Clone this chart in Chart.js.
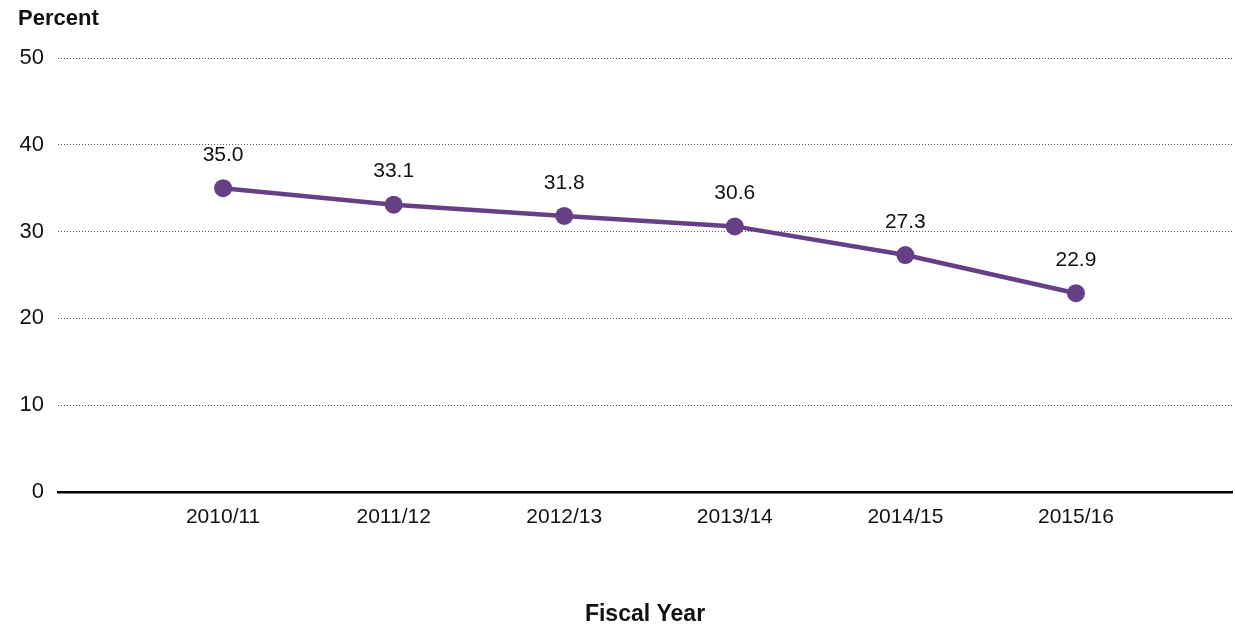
<!DOCTYPE html>
<html>
<head>
<meta charset="utf-8">
<script src="https://cdn.jsdelivr.net/npm/chart.js@4"></script>
<style>
html,body{margin:0;padding:0;background:#fff;overflow:hidden;}
#wrap{width:1235px;height:629px;position:relative;}
canvas{display:block;}
</style>
</head>
<body>
<div id="wrap"><canvas id="c" width="1235" height="629"></canvas></div>
<script>
const categories = ["2010/11","2011/12","2012/13","2013/14","2014/15","2015/16"];
const values = [35.0, 33.1, 31.8, 30.6, 27.3, 22.9];
const yTicks = [0, 10, 20, 30, 40, 50];
const yTitle = "Percent";
const xTitle = "Fiscal Year";

const FONT = "'Liberation Sans', Arial, Helvetica, sans-serif";
const PURPLE = "#673f87";

const points = values.map((v, i) => ({x: i, y: v}));

const extras = {
  id: 'extras',
  afterDatasetsDraw(chart) {
    const ctx = chart.ctx;
    const meta = chart.getDatasetMeta(0);
    ctx.save();
    ctx.fillStyle = '#111';
    ctx.font = "21px " + FONT;
    ctx.textAlign = 'center';
    ctx.textBaseline = 'middle';
    meta.data.forEach((el, i) => {
      ctx.fillText(values[i].toFixed(1), el.x, el.y - 33);
    });
    ctx.font = "bold 22px " + FONT;
    ctx.textAlign = 'left';
    ctx.fillText(yTitle, 18, 19);
    ctx.restore();
  }
};

new Chart(document.getElementById('c'), {
  type: 'line',
  data: {
    datasets: [{
      data: points,
      borderColor: PURPLE,
      backgroundColor: PURPLE,
      borderWidth: 4.5,
      pointRadius: 9,
      pointHoverRadius: 9,
      pointBackgroundColor: PURPLE,
      pointBorderWidth: 0,
      tension: 0,
      fill: false
    }]
  },
  options: {
    responsive: false,
    animation: false,
    devicePixelRatio: 1,
    layout: {autoPadding: false, padding: {left: 10, right: 3, top: 58, bottom: 0}},
    plugins: {legend: {display: false}, tooltip: {enabled: false}, title: {display: false}},
    scales: {
      x: {
        type: 'linear',
        min: -0.968,
        max: 5.915,
        afterBuildTicks(scale) { scale.ticks = categories.map((c, i) => ({value: i})); },
        afterFit(scale) { scale.height = 137; scale.paddingLeft = 0; scale.paddingRight = 0; },
        ticks: {
          callback: (v) => categories[v] ?? '',
          font: {family: FONT, size: 21},
          color: '#111',
          padding: 13,
          maxRotation: 0,
          autoSkip: false
        },
        grid: {display: false, drawTicks: false},
        border: {display: true, color: '#000', width: 2.5},
        title: {
          display: true,
          text: xTitle,
          font: {family: FONT, size: 23, weight: 'bold'},
          color: '#111',
          padding: {top: 0, bottom: 1}
        }
      },
      y: {
        min: 0,
        max: 50,
        afterBuildTicks(scale) { scale.ticks = yTicks.map(v => ({value: v})); },
        afterFit(scale) { scale.width = 48; },
        ticks: {
          font: {family: FONT, size: 22},
          color: '#111',
          padding: 14
        },
        grid: {
          drawTicks: false,
          color: (c) => c.tick && c.tick.value === 0 ? 'rgba(0,0,0,0)' : '#555',
          lineWidth: 1
        },
        border: {display: false, dash: [1, 2]}
      }
    }
  },
  plugins: [extras]
});
</script>
</body>
</html>
